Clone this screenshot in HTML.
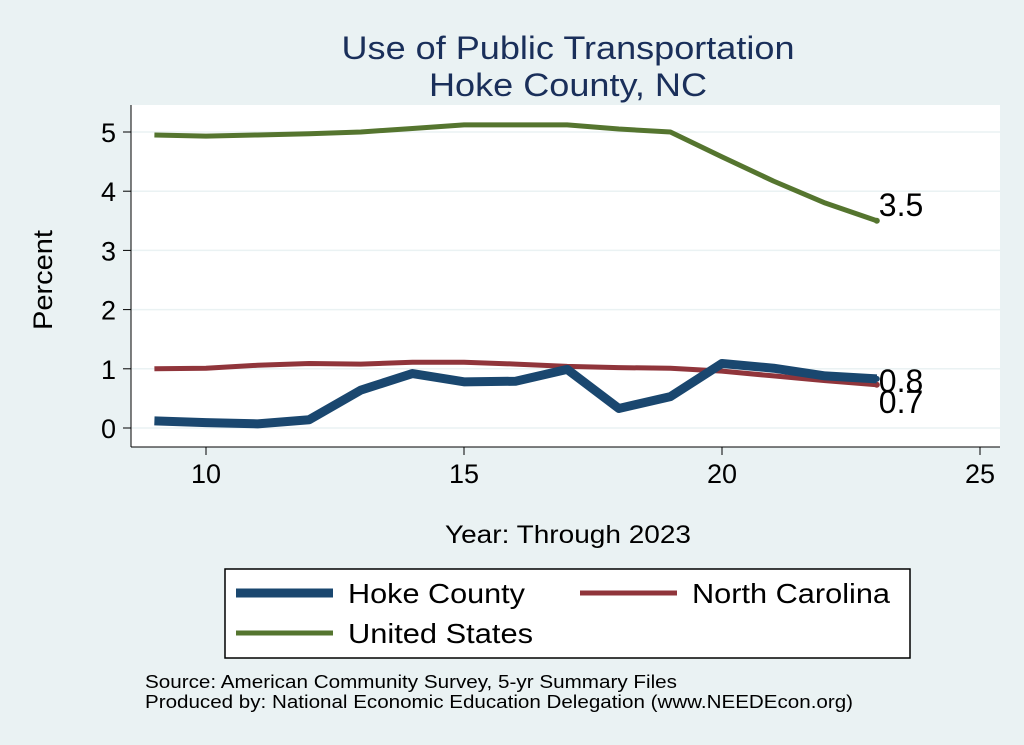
<!DOCTYPE html>
<html><head><meta charset="utf-8"><style>
body{margin:0;background:#eaf2f3;}
svg{display:block;font-family:"Liberation Sans",sans-serif;}
</style></head><body>
<svg id="c" width="1024" height="745">
<rect x="0" y="0" width="1024" height="745" fill="#eaf2f3"/>
<text x="568" y="59" font-size="32" fill="#1a2f5a" text-anchor="middle" textLength="453" lengthAdjust="spacingAndGlyphs">Use of Public Transportation</text>
<text x="568" y="96" font-size="32" fill="#1a2f5a" text-anchor="middle" textLength="278" lengthAdjust="spacingAndGlyphs">Hoke County, NC</text>
<rect x="131" y="105" width="869" height="342" fill="#fff"/>
<g id="grid"></g><g id="axes"></g><g id="series"></g>
<text x="52" y="280" font-size="27" fill="#000" text-anchor="middle" textLength="100" lengthAdjust="spacingAndGlyphs" transform="rotate(-90 52 280)">Percent</text>
<text x="568" y="543" font-size="25" fill="#000" text-anchor="middle" textLength="246" lengthAdjust="spacingAndGlyphs">Year: Through 2023</text>
<g>
<rect x="225" y="569" width="685" height="89" fill="#fff" stroke="#000" stroke-width="1.5"/>
<line x1="236" y1="593" x2="333" y2="593" stroke="#1a476f" stroke-width="9"/>
<text x="348" y="603" font-size="28" textLength="177" lengthAdjust="spacingAndGlyphs">Hoke County</text>
<line x1="580" y1="593" x2="677" y2="593" stroke="#90353b" stroke-width="5"/>
<text x="692" y="603" font-size="28" textLength="198" lengthAdjust="spacingAndGlyphs">North Carolina</text>
<line x1="236" y1="633" x2="333" y2="633" stroke="#55752f" stroke-width="5"/>
<text x="348" y="643" font-size="28" textLength="185" lengthAdjust="spacingAndGlyphs">United States</text>
</g>
<text x="145" y="688" font-size="18" textLength="532" lengthAdjust="spacingAndGlyphs">Source: American Community Survey, 5-yr Summary Files</text>
<text x="145" y="708" font-size="18" textLength="708" lengthAdjust="spacingAndGlyphs">Produced by: National Economic Education Delegation (www.NEEDEcon.org)</text>
</svg>
<script>
const years=[9,10,11,12,13,14,15,16,17,18,19,20,21,22,23];
const hoke=[0.12,0.09,0.07,0.14,0.64,0.92,0.78,0.79,0.99,0.33,0.53,1.09,1.01,0.88,0.83];
const nc=[1.0,1.01,1.06,1.09,1.08,1.11,1.11,1.08,1.04,1.02,1.01,0.96,0.88,0.8,0.73];
const us=[4.95,4.93,4.95,4.97,5.0,5.06,5.12,5.12,5.12,5.05,5.0,4.58,4.17,3.8,3.5];
const xTicks=[10,15,20,25];
const yTicks=[0,1,2,3,4,5];
const labels=["0.8","0.7","3.5"];
const NS="http://www.w3.org/2000/svg";
const X=v=>206+(v-10)*51.6;
const Y=v=>428-v*59.2;
function mk(t,a,p){const e=document.createElementNS(NS,t);for(const k in a)e.setAttribute(k,a[k]);document.getElementById(p).appendChild(e);return e;}
yTicks.forEach(t=>{
 const g=mk('line',{x1:131,x2:1000,y1:Y(t),y2:Y(t),stroke:'#eaf2f3','stroke-width':1.5},'grid');
 
 
 const k=mk('line',{x1:123,x2:131,y1:Y(t),y2:Y(t),stroke:'#000'},'axes');
 
 
 const l=mk('text',{x:116,y:Y(t)+10,'font-size':27,'text-anchor':'end'},'axes');l.textContent=t;
 
 
});
mk('line',{x1:131,x2:131,y1:105,y2:447,stroke:'#000'},'axes');
mk('line',{x1:131,x2:1000,y1:447,y2:447,stroke:'#000'},'axes');
xTicks.forEach(t=>{
 const k=mk('line',{x1:X(t),x2:X(t),y1:447,y2:455,stroke:'#000'},'axes');
 
 
 const l=mk('text',{x:X(t),y:483,'font-size':27,'text-anchor':'middle'},'axes');l.textContent=t;
 
 
});
function line(d,col,w,name){
 const p=mk('polyline',{points:years.map((y,i)=>X(y)+','+Y(d[i])).join(' '),fill:'none',stroke:col,'stroke-width':w,'stroke-linejoin':'round'},'series');
 
 
 const n=d.length-1;
 const c=mk('circle',{cx:X(years[n]),cy:Y(d[n]),r:3,fill:col},'series');
 
 
}
line(us,'#55752f',5,'line-us');
line(nc,'#90353b',5,'line-nc');
line(hoke,'#1a476f',9,'line-hoke');
const lx=X(23)+2;
[[labels[0],Y(hoke[14])+13],[labels[1],Y(nc[14])+28],[labels[2],Y(us[14])-5]].forEach((a,i)=>{
 const t=mk('text',{x:lx,y:a[1],'font-size':32},'series');t.textContent=a[0];
 
 
});
</script>
</body></html>
